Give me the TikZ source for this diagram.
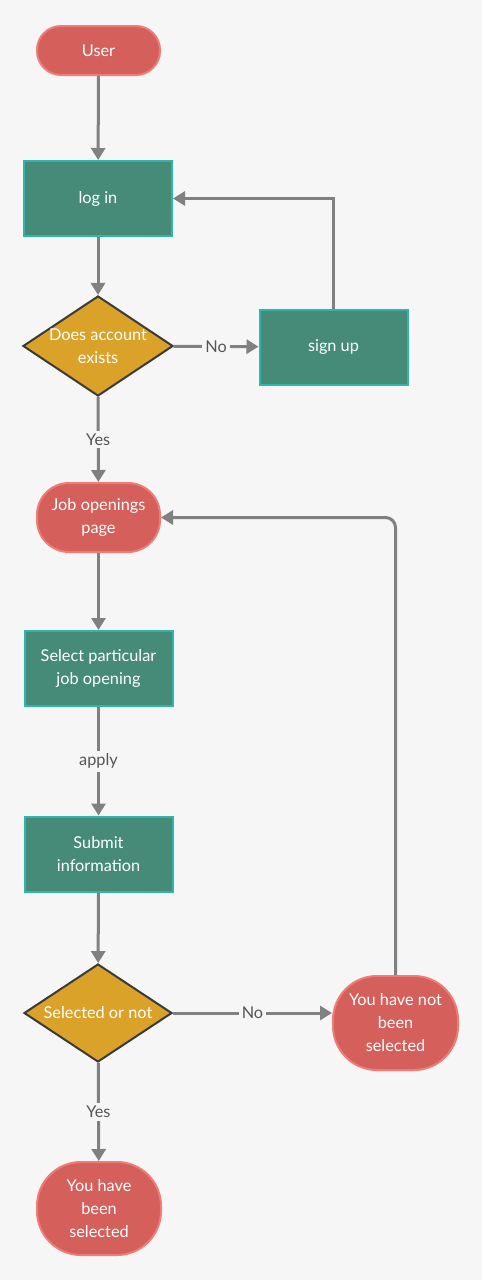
\documentclass[tikz,border=0pt]{standalone}
\usepackage{fontspec}
\setmainfont{Lato}
\usetikzlibrary{arrows.meta,positioning,shapes.geometric}

\definecolor{bgcol}{HTML}{F6F6F6}
\definecolor{termfill}{HTML}{D55F5A}
\definecolor{termline}{HTML}{F07C77}
\definecolor{procfill}{HTML}{468B78}
\definecolor{procline}{HTML}{2DB5AE}
\definecolor{decfill}{HTML}{DBA22A}
\definecolor{decline}{HTML}{3A3A3A}
\definecolor{flowcol}{HTML}{808080}
\definecolor{lblcol}{HTML}{555555}

\tikzset{
  terminal/.style={rectangle, fill=termfill, draw=termline, line width=2pt,
    text=white, align=center, inner sep=0pt},
  process/.style={rectangle, fill=procfill, draw=procline, line width=2pt,
    text=white, align=center, minimum width=148, minimum height=75, inner sep=0pt},
  decision/.style={diamond, fill=decfill, draw=decline, line width=2pt,
    text=white, align=center, minimum width=148, minimum height=98, inner sep=0pt, aspect=1.5},
  flowline/.style={draw=flowcol, line width=3pt, -{Triangle[width=14pt,length=12pt]}},
  lbl/.style={fill=bgcol, text=lblcol, inner sep=3pt}
}

\begin{document}
\begin{tikzpicture}[x=1pt,y=-1pt,font=\fontsize{16.3}{23}\selectfont]
  \fill[bgcol] (0,0) rectangle (482,1280);
  \useasboundingbox (0,0) rectangle (482,1280);

  \node[terminal, minimum width=123, minimum height=49, rounded corners=24] (user) at (98.5,50.5) {User};
  \node[process] (login) at (98,198.5) {log in};
  \node[decision] (exists) at (98,346) {Does account\\exists};
  \node[process] (signup) at (333.5,347) {sign up};
  \node[terminal, minimum width=123, minimum height=69, rounded corners=32] (jobs) at (98.5,517.5) {Job openings\\page};
  \node[process] (selectjob) at (98.5,668.5) {Select particular\\job opening};
  \node[process] (submit) at (98.5,854) {Submit\\information};
  \node[decision] (selected) at (98,1013) {Selected or not};
  \node[terminal, minimum width=125, minimum height=94, rounded corners=44] (notsel) at (395.5,1023) {You have not\\been\\selected};
  \node[terminal, minimum width=124, minimum height=93, rounded corners=44] (yessel) at (99,1208.5) {You have\\been\\selected};

  \draw[flowline] (user) -- (login);
  \draw[flowline] (login) -- (exists);
  \draw[flowline] (exists) -- node[lbl] {No} (signup);
  \draw[flowline] (signup.north) |- (login.east);
  \draw[flowline] (exists) -- node[lbl] {Yes} (jobs);
  \draw[flowline] (jobs) -- (selectjob);
  \draw[flowline] (selectjob) -- node[lbl] {apply} (submit);
  \draw[flowline] (submit) -- (selected);
  \draw[flowline] (selected.east) -- node[lbl] {No} (selected.east -| notsel.west);
  \draw[flowline, rounded corners=10] (notsel.north) |- (jobs.east);
  \draw[flowline] (selected) -- node[lbl] {Yes} (yessel);
\end{tikzpicture}
\end{document}
